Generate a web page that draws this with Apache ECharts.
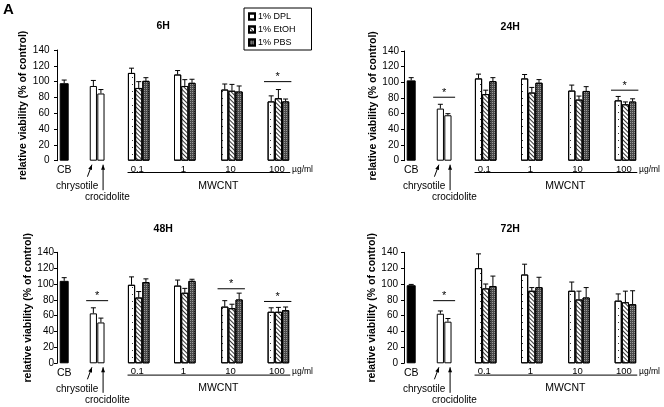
<!DOCTYPE html>
<html><head><meta charset="utf-8">
<script src="https://cdn.jsdelivr.net/npm/echarts@6/dist/echarts.min.js"></script>
<style>html,body{margin:0;padding:0;background:#fff}#c{width:664px;height:407px}</style>
</head><body><div id="c"></div>
<script>
// ---------- data ----------
const timepoints = ['6H', '24H', '48H', '72H'];
const doses = ['0.1', '1', '10', '100'];
const vehicles = ['1% DPL', '1% EtOH', '1% PBS'];
const yAxisTitle = 'relative viability (% of control)';

const cbMean = [98, 102.5, 104, 98.5];
const cbErr = [4, 3.5, 4, 1];
const chrysotileMean = [94.5, 66.5, 63, 62.5];
const chrysotileErr = [7, 5.5, 7, 3.5];
const crocidoliteMean = [85, 58, 51.5, 52.5];
const crocidoliteErr = [5, 2, 5.5, 4];

// rows = timepoints, columns = doses
const dplMean = [[111, 109, 90, 75], [105, 105, 89.5, 77], [99, 98, 71.5, 65], [120, 112, 91.5, 79]];
const dplErr = [[6, 5, 7, 7], [5.5, 5, 7, 5], [10, 7, 7.5, 5], [18, 13, 11, 8.5]];
const etohMean = [[92, 94.5, 88.5, 79], [85, 87, 78, 72], [83, 89, 69.5, 65], [94.5, 91.5, 80.5, 77]];
const etohErr = [[8, 8, 8, 11], [5, 6.5, 4.5, 3], [7.5, 5.5, 5, 5.5], [5.5, 4, 10.5, 14]];
const pbsMean = [[101, 98.5, 87.5, 75], [101.5, 99.5, 89, 75.5], [102.5, 104, 80.5, 67], [97.5, 96, 83, 74.5]];
const pbsErr = [[4, 4.5, 7, 3], [4.5, 4, 5.5, 3.5], [4, 2, 8, 4], [12.5, 12.5, 12.5, 17]];

// significance bars: group + level (value) of the bar
const significance = [
  [{ group: '100', level: 100 }],
  [{ group: 'asbestos', level: 81 }, { group: '100', level: 90 }],
  [{ group: 'asbestos', level: 79 }, { group: '10', level: 94 }, { group: '100', level: 78 }],
  [{ group: 'asbestos', level: 79 }]
];

// ---------- layout (not data) ----------
const FONT = 'Liberation Sans, Arial, sans-serif';
const U = 7.2;          // px per x unit (= one bar width)
const X_MAX = 34;
const POS = { cb: 1.0, chrys: 5.05, croc: 6.1, groups: [11.35, 17.75, 24.3, 30.75] };
const panels = [
  { left: 57, top: 50, height: 110.7, axisOffset: 4.5 },
  { left: 404, top: 51, height: 109.7, axisOffset: 2 },
  { left: 57, top: 252.3, height: 111, axisOffset: 0 },
  { left: 404, top: 252.3, height: 111, axisOffset: 3 }
];
const styles = {
  cb: { color: '#000', borderColor: '#000', borderWidth: 1 },
  asb: { color: '#fff', borderColor: '#000', borderWidth: 1 },
  dpl: { color: '#fff', borderColor: '#000', borderWidth: 1,
    decal: { symbol: 'rect', symbolSize: 1, dashArrayX: [1, 5], dashArrayY: [1, 5.5], color: '#333' } },
  etoh: { color: '#fff', borderColor: '#000', borderWidth: 1,
    decal: { symbol: 'rect', symbolSize: 1, dashArrayX: [1, 0], dashArrayY: [0.8, 2], rotation: Math.PI / 4, color: '#333' } },
  pbs: { color: '#4a4a4a', borderColor: '#000', borderWidth: 1,
    decal: { symbol: 'rect', symbolSize: 1, dashArrayX: [1, 1], dashArrayY: [1, 1], color: '#999' } }
};

const grids = [], xAxes = [], yAxes = [], series = [];

function txt(x, y, text, size, opts) {
  return Object.assign({ type: 'text', x: x, y: y, style: Object.assign({
    text: text, fill: '#000', fontSize: size, fontFamily: FONT, align: 'center', verticalAlign: 'middle'
  }, opts || {}) });
}
function ln(a, b) {
  return { type: 'line', shape: { x1: a[0], y1: a[1], x2: b[0], y2: b[1] }, style: { stroke: '#000', lineWidth: 1 } };
}
function arrowHead(tip, from) {
  const dx = tip[0] - from[0], dy = tip[1] - from[1];
  const L = Math.sqrt(dx * dx + dy * dy), ux = dx / L, uy = dy / L;
  const bx = tip[0] - ux * 5, by = tip[1] - uy * 5;
  return { type: 'polygon', shape: { points: [tip, [bx - uy * 2, by + ux * 2], [bx + uy * 2, by - ux * 2]] },
    style: { fill: '#000' } };
}

panels.forEach(function (pl, p) {
  grids.push({ left: pl.left, top: pl.top, width: X_MAX * U, height: pl.height });
  const base = xAxes.length;
  for (let k = 0; k < 5; k++) {
    xAxes.push({ type: 'value', gridIndex: p, min: 0, max: X_MAX, show: false });
  }
  yAxes.push({
    type: 'value', gridIndex: p, min: 0, max: 140, interval: 20, offset: pl.axisOffset,
    axisLine: { show: true, lineStyle: { color: '#000', width: 1 } },
    axisTick: { show: true, length: 3, lineStyle: { color: '#000' } },
    axisLabel: { color: '#000', fontSize: 10, fontFamily: FONT, margin: 3 },
    splitLine: { show: false },
    name: yAxisTitle, nameLocation: 'middle', nameGap: 21,
    nameTextStyle: { color: '#000', fontSize: 10.5, fontWeight: 'bold', fontFamily: FONT }
  });
  const G = POS.groups;
  series.push({ type: 'bar', xAxisIndex: base, yAxisIndex: p, barWidth: 9, silent: true,
    itemStyle: styles.cb, data: [[POS.cb, cbMean[p]]] });
  series.push({ type: 'bar', xAxisIndex: base + 1, yAxisIndex: p, barWidth: U, silent: true,
    itemStyle: styles.asb, data: [[POS.chrys, chrysotileMean[p]], [POS.croc, crocidoliteMean[p]]] });
  const vMeans = [dplMean, etohMean, pbsMean], vStyles = [styles.dpl, styles.etoh, styles.pbs];
  vehicles.forEach(function (v, s) {
    series.push({ type: 'bar', name: v, xAxisIndex: base + 2 + s, yAxisIndex: p, barWidth: U, silent: true,
      itemStyle: vStyles[s], data: doses.map(function (d, i) { return [G[i] + (s - 1), vMeans[s][p][i]]; }) });
  });
  // error bars
  const errData = [[POS.cb, cbMean[p], cbErr[p]], [POS.chrys, chrysotileMean[p], chrysotileErr[p]],
    [POS.croc, crocidoliteMean[p], crocidoliteErr[p]]];
  const vErrs = [dplErr, etohErr, pbsErr];
  doses.forEach(function (d, i) {
    for (let s = 0; s < 3; s++) errData.push([G[i] + (s - 1), vMeans[s][p][i], vErrs[s][p][i]]);
  });
  series.push({
    type: 'custom', xAxisIndex: base, yAxisIndex: p, silent: true, data: errData, z: 5,
    renderItem: function (params, api) {
      const x = api.value(0), m = api.value(1), e = api.value(2);
      const t = api.coord([x, m + e]), b = api.coord([x, m]);
      return { type: 'group', children: [ln(t, b), ln([t[0] - 2.5, t[1]], [t[0] + 2.5, t[1]])] };
    }
  });
  // annotations
  series.push({
    type: 'custom', xAxisIndex: base, yAxisIndex: p, silent: true, data: [[0, 0]], z: 6,
    renderItem: function (params, api) {
      const c = function (x, y) { return api.coord([x, y]); };
      const ch = [];
      const top = c(14.75, 140);
      ch.push(txt(top[0], top[1] - 23.5, timepoints[p], 10.5, { fontWeight: 'bold' }));
      const cb = c(POS.cb, 0);
      ch.push(txt(cb[0], cb[1] + 9.5, 'CB', 10.5));
      const a1tip = c(POS.chrys - 0.2, 0), a2tip = c(POS.croc + 0.3, 0);
      const t1 = [a1tip[0] - 4.5, a1tip[1] + 16], h1 = [a1tip[0], a1tip[1] + 4];
      ch.push(ln(t1, h1), arrowHead(h1, t1));
      const t2 = [a2tip[0], a2tip[1] + 29.5], h2 = [a2tip[0], a2tip[1] + 4];
      ch.push(ln(t2, h2), arrowHead(h2, t2));
      const chL = c(2.8, 0), crL = c(7.0, 0);
      ch.push(txt(chL[0], chL[1] + 25.5, 'chrysotile', 10));
      ch.push(txt(crL[0], crL[1] + 37, 'crocidolite', 10));
      doses.forEach(function (d, i) {
        const q = c(POS.groups[i] - 0.2, 0);
        ch.push(txt(q[0], q[1] + 8.3, d, 9.5));
      });
      const l0 = c(POS.groups[0] - 1.55, 0), l1 = c(POS.groups[3] + 1.65, 0);
      ch.push(ln([l0[0], l0[1] + 11.8], [l1[0], l1[1] + 11.8]));
      const ug = c(34.1, 0);
      ch.push(txt(ug[0], ug[1] + 8.5, 'µg/ml', 8.5));
      const mw = c(22.4, 0);
      ch.push(txt(mw[0], mw[1] + 25, 'MWCNT', 10.5));
      significance[p].forEach(function (sg) {
        let x0, x1;
        if (sg.group === 'asbestos') { x0 = POS.chrys - 1.0; x1 = POS.croc + 1.0; }
        else { const g = POS.groups[doses.indexOf(sg.group)]; x0 = g - 2.0; x1 = g + 1.8; }
        const a = c(x0, sg.level), b = c(x1, sg.level);
        ch.push(ln(a, b));
        ch.push(txt((a[0] + b[0]) / 2, a[1] + 1, '*', 11, { verticalAlign: 'bottom' }));
      });
      return { type: 'group', children: ch };
    }
  });
});

const chart = echarts.init(document.getElementById('c'), null, { renderer: 'canvas' });
chart.setOption({
  animation: false,
  backgroundColor: '#fff',
  grid: grids, xAxis: xAxes, yAxis: yAxes, series: series,
  legend: {
    data: vehicles, orient: 'vertical', left: 244, top: 8, padding: [4, 16, 3, 4],
    itemWidth: 6, itemHeight: 6, itemGap: 4, icon: 'rect',
    borderColor: '#000', borderWidth: 1, selectedMode: false,
    textStyle: { fontSize: 9, color: '#000', fontFamily: FONT, padding: [0, 0, 0, -2] }
  },
  graphic: [{ type: 'text', left: 3, top: 2, style: { text: 'A', fontSize: 15, fontWeight: 'bold', fontFamily: FONT, fill: '#000' } }]
});
</script></body></html>
